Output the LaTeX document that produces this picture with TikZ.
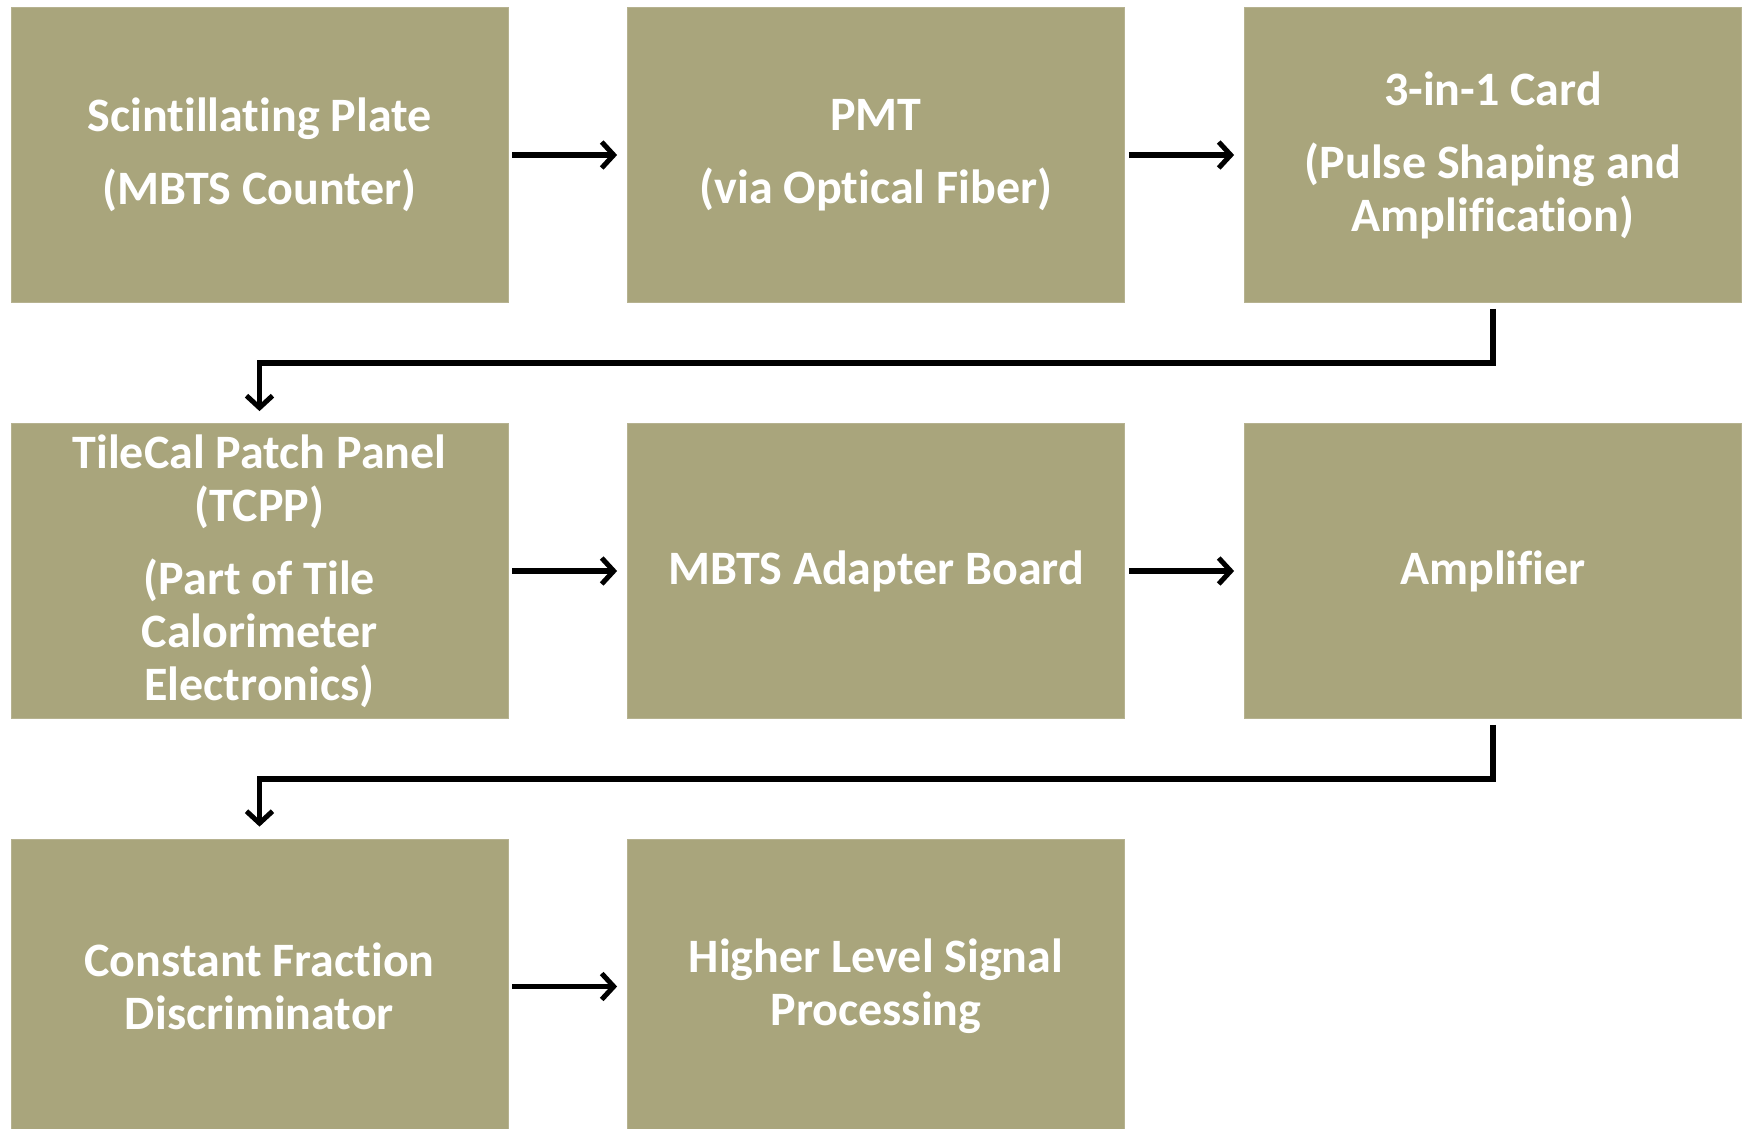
\documentclass[tikz,border=0pt]{standalone}
\usepackage{fontspec}
\setmainfont{Carlito}[Ligatures=NoCommon]
\usetikzlibrary{arrows.meta,calc}
\definecolor{boxfill}{RGB}{169,165,124}
\pgfdeclareradialshading{bgshade}{\pgfpoint{0bp}{0bp}}{color(0bp)=(white); color(38bp)=(white); color(50bp)=(black!9)}
\begin{document}
\begin{tikzpicture}[x=1pt,y=-1pt,
  blk/.style={rectangle, fill=boxfill, draw=boxfill!85!white, line width=0.8pt,
    minimum width=497pt, minimum height=295pt, inner sep=0pt, align=center,
    text=white, font=\fontsize{48}{53}\selectfont\bfseries},
  flow/.style={line width=5.5pt, -{Straight Barb[length=12pt,width=26pt,line width=5pt]}},
]
\useasboundingbox (0,0) rectangle (1742,1129);
\begin{scope}
  \clip (0,0) rectangle (1742,1129);
  \shade[shading=bgshade] (-360,-710) rectangle (1960,1610);
\end{scope}
\begin{scope}
\clip (0,0) rectangle (1742,1129);
\node[blk] (b1) at (259.5,155) {Scintillating Plate\\[20pt](MBTS Counter)};
\node[blk] (b2) at (876,155) {PMT\\[20pt](via Optical Fiber)};
\node[blk] (b3) at (1493,155) {3-in-1 Card\\[20pt](Pulse Shaping and\\Amplification)};
\node[blk] (b4) at (259.5,571) {TileCal Patch Panel\\(TCPP)\\[20pt](Part of Tile\\Calorimeter\\Electronics)};
\node[blk] (b5) at (876,571) {MBTS Adapter Board};
\node[blk] (b6) at (1493,571) {Amplifier};
\node[blk] (b7) at (259.5,986.5) {Constant Fraction\\Discriminator};
\node[blk] (b8) at (876,986.5) {Higher Level Signal\\Processing};
\end{scope}
\draw[flow, shorten <=4pt, shorten >=10pt] (b1.east) -- (b2.west);
\draw[flow, shorten <=4pt, shorten >=10pt] (b2.east) -- (b3.west);
\draw[flow, shorten <=4pt, shorten >=10pt] (b4.east) -- (b5.west);
\draw[flow, shorten <=4pt, shorten >=10pt] (b5.east) -- (b6.west);
\draw[flow, shorten <=4pt, shorten >=10pt] (b7.east) -- (b8.west);
\coordinate (m1) at ($(b3.south)!0.5!(b4.north)$);
\coordinate (m2) at ($(b6.south)!0.5!(b7.north)$);
\draw[flow, shorten <=6pt, shorten >=12pt] (b3.south) |- (m1) -| (b4.north);
\draw[flow, shorten <=6pt, shorten >=12pt] (b6.south) |- (m2) -| (b7.north);
\end{tikzpicture}
\end{document}
